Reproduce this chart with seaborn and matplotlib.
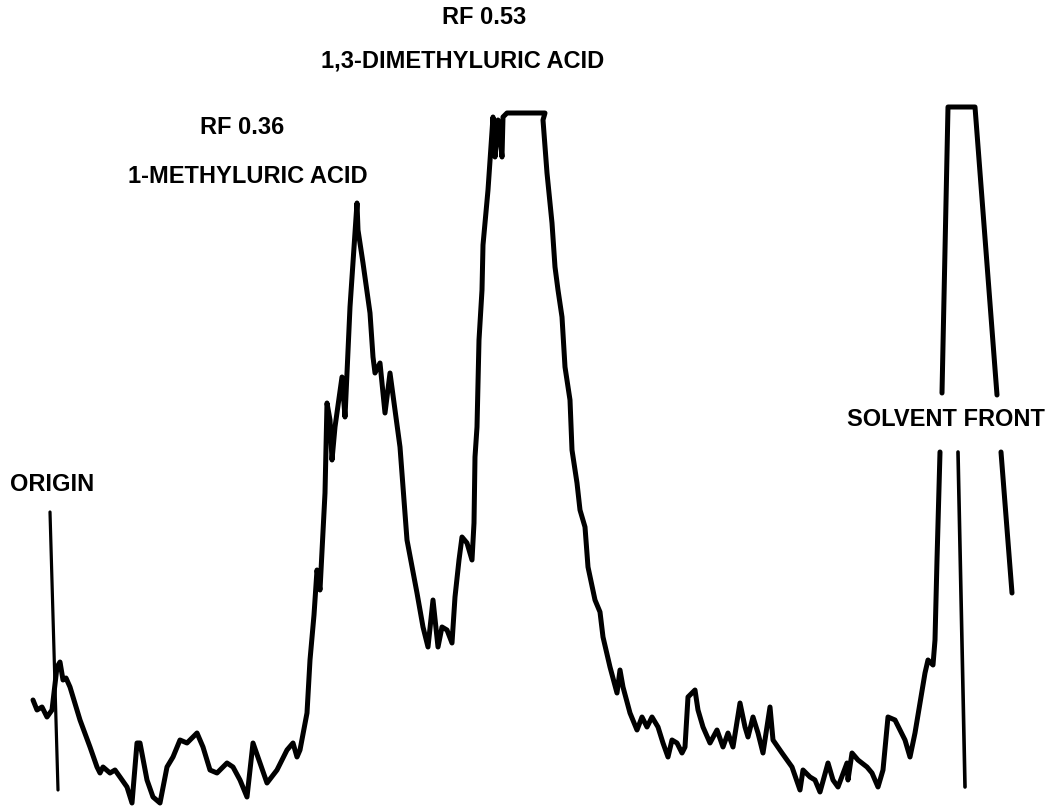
import matplotlib
matplotlib.use("Agg")
import matplotlib.pyplot as plt
import numpy as np
import pandas as pd
import seaborn as sns

# Densitometer scan of the chromatogram strip: position along the strip
# and recorder response, split where the pen trace runs under a label.
position_main = [
    33, 37, 42, 47, 52, 57, 60, 63, 66, 70, 80, 90, 97, 100, 103, 110, 115, 120,
    127, 132, 137, 140, 147, 153, 160, 167, 173, 180, 187, 197, 203, 210, 217,
    227, 233, 240, 247, 253, 260, 267, 277, 287, 293, 297, 300, 307, 310, 314,
    317, 320, 325, 327, 330, 332, 335, 342, 345, 350, 355, 357, 358, 363, 370,
    373, 375, 380, 385, 390, 395, 400, 407, 417, 423, 428, 433, 438, 442, 447,
    452, 455, 459, 462, 467, 472, 474, 475, 477, 479, 482, 483, 488, 493, 495,
    498, 502, 503, 507, 545, 543, 547, 552, 555, 558, 562, 565, 570, 572, 577,
    580, 585, 588, 595, 600, 603, 610, 617, 620, 623, 630, 637, 642, 647, 652,
    658, 663, 668, 672, 677, 682, 685, 688, 695, 698, 703, 710, 717, 723, 728,
    733, 740, 745, 748, 753, 758, 763, 770, 773, 782, 787, 792, 800, 803, 810,
    815, 820, 828, 833, 838, 847, 848, 852, 858, 867, 872, 878, 883, 888, 895,
    900, 905, 910, 915, 920, 925, 928, 933, 935, 937, 940,
]
signal_main = [
    109, 99, 102, 92, 99, 142, 147, 129, 131, 122, 89, 62, 42, 36, 42, 36, 39, 32,
    22, 6, 66, 66, 29, 12, 6, 42, 52, 69, 66, 76, 62, 39, 36,
    46, 42, 29, 12, 66, 46, 26, 39, 59, 66, 52, 59, 96, 149, 194,
    239, 219, 316, 406, 389, 349, 382, 432, 392, 502, 576, 606, 579, 546, 496,
    452, 436, 446, 396, 436, 399, 362, 269, 216, 182, 162, 209, 162, 182, 179,
    166, 212, 249, 272, 266, 249, 286, 352, 382, 469, 519, 564, 619, 692, 652,
    689, 652, 692, 696, 696, 689, 636, 586, 542, 519, 492, 442, 409, 359, 326,
    299, 282, 242, 209, 197, 172, 142, 116, 139, 122, 96, 79, 92, 82, 92,
    82, 66, 52, 69, 66, 56, 62, 112, 119, 99, 82, 66, 79, 62, 76,
    62, 106, 82, 72, 92, 76, 56, 102, 69, 56, 49, 42, 19, 39, 32,
    29, 17, 46, 29, 22, 46, 29, 56, 49, 42, 36, 22, 39, 92, 89,
    79, 69, 52, 76, 106, 136, 149, 144, 169, 249, 357,
]
position_front_top = [942, 948, 975, 997]
signal_front_top = [416, 702, 702, 414]
position_front_tail = [1001, 1012]
signal_front_tail = [357, 216]

# Reference marks drawn on the scan
origin_mark_x = [50, 58]
origin_mark_y = [297, 19]
front_mark_x = [958, 965]
front_mark_y = [357, 22]

label_texts = ["RF 0.53", "1,3-DIMETHYLURIC ACID", "RF 0.36",
               "1-METHYLURIC ACID", "SOLVENT FRONT", "ORIGIN"]
label_x = [484, 463, 242, 248, 946, 52]
label_y = [792, 748, 682, 633, 390, 325]

scan = pd.DataFrame({
    "position": position_main + position_front_top + position_front_tail,
    "signal": signal_main + signal_front_top + signal_front_tail,
    "segment": [0] * len(position_main) + [1] * len(position_front_top)
               + [2] * len(position_front_tail),
})

sns.set_theme(style="white")
plt.rcParams["font.family"] = ["Liberation Sans", "DejaVu Sans"]

fig = plt.figure(figsize=(10.63, 8.09), dpi=100)
ax = fig.add_axes([0, 0, 1, 1])

sns.lineplot(data=scan, x="position", y="signal", units="segment",
             estimator=None, sort=False, color="black", linewidth=3.6,
             ax=ax, legend=False,
             solid_capstyle="round", solid_joinstyle="round")

ax.plot(origin_mark_x, origin_mark_y, color="black", linewidth=2.3,
        solid_capstyle="round")
ax.plot(front_mark_x, front_mark_y, color="black", linewidth=2.6,
        solid_capstyle="round")

for txt, x, y in zip(label_texts, label_x, label_y):
    ax.text(x, y, txt, ha="center", va="center", fontsize=17,
            fontweight="bold", color="black")

ax.set_xlim(0, 1063)
ax.set_ylim(0, 809)
ax.set_axis_off()

fig.savefig("out.png", dpi=100, facecolor="white")
